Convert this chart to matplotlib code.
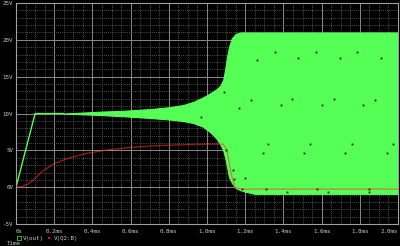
import matplotlib.pyplot as plt
import numpy as np
from matplotlib.lines import Line2D

# V(out): start ramp then oscillation envelope (ms, V)
t_ramp = [0.0, 0.10, 0.25]
v_ramp = [0.0, 10.0, 10.0]

t_env = [0.25, 0.44, 0.58, 0.70, 0.80, 0.875, 0.93, 0.98, 1.02, 1.05, 1.07, 1.085,
         1.095, 1.105, 1.115, 1.13, 1.15, 1.175, 1.20, 1.25, 2.0]
v_up = [10.0, 10.25, 10.4, 10.6, 10.85, 11.15, 11.6, 12.2, 12.8, 13.3, 13.8, 14.6,
        16.0, 17.7, 19.0, 20.2, 20.8, 21.0, 21.0, 21.0, 21.0]
v_lo = [10.0, 9.8, 9.6, 9.4, 9.2, 8.98, 8.7, 8.2, 7.4, 6.6, 5.8, 5.0,
        4.0, 2.75, 1.4, 0.6, -0.1, -0.4, -0.6, -0.9, -0.9]

# sample markers drawn on the V(out) trace
t_mk_out = [1.356, 1.262, 1.476, 1.571, 1.696, 1.785, 1.911, 1.089, 1.230, 1.168,
            1.445, 1.387, 1.665, 1.602, 1.880, 1.817, 0.969, 1.319, 1.539, 1.759,
            1.974, 1.293, 1.508, 1.723, 1.942, 1.199, 1.419, 1.634, 1.848]
v_mk_out = [18.4, 17.2, 17.5, 18.4, 17.5, 18.4, 17.5, 12.9, 11.8, 10.7,
            12.0, 11.1, 12.0, 11.1, 11.9, 11.1, 9.5, 5.8, 5.8, 5.8,
            5.8, 4.7, 4.7, 4.7, 4.7, 1.2, -0.6, -0.6, -0.6]

# V(Q2:B)
t_b = [0.0, 0.03, 0.06, 0.09, 0.14, 0.20, 0.27, 0.37, 0.49, 0.60, 0.70, 0.85, 1.0,
       1.084, 1.105, 1.12, 1.131, 1.147, 1.173, 2.0]
v_b = [0.0, 0.1, 0.4, 0.95, 2.2, 3.2, 3.9, 4.6, 5.1, 5.4, 5.6, 5.75, 5.85,
       5.85, 5.0, 2.7, 1.4, 0.0, -0.25, -0.25]
t_mk_b = [0.942, 1.099, 1.136, 1.140, 1.183, 1.309, 1.576, 1.848]
v_mk_b = [5.85, 5.1, 2.4, 1.1, -0.25, -0.25, -0.25, -0.25]

x_ticks = [0.0, 0.2, 0.4, 0.6, 0.8, 1.0, 1.2, 1.4, 1.6, 1.8, 2.0]
x_labels = ["0s", "0.2ms", "0.4ms", "0.6ms", "0.8ms", "1.0ms", "1.2ms", "1.4ms", "1.6ms", "1.8ms", "2.0ms"]
y_ticks = [-5, 0, 5, 10, 15, 20, 25]
y_labels = ["-5V", "0V", "5V", "10V", "15V", "20V", "25V"]

green = "#55ff55"
txt = "#c8c8c8"

fig = plt.figure(figsize=(4.0, 2.46), dpi=100, facecolor="black")
ax = fig.add_axes([0.04, 0.089, 0.955, 0.899], facecolor="black")

ax.set_xlim(0, 2.0)
ax.set_ylim(-5, 25)
ax.set_xticks(x_ticks)
ax.set_xticklabels(x_labels)
ax.set_yticks(y_ticks)
ax.set_yticklabels(y_labels)
ax.set_xticks(np.arange(0, 2.0, 0.05), minor=True)
ax.set_yticks(np.arange(-5, 25, 1), minor=True)
ax.tick_params(which="both", length=0, colors=txt, labelsize=4.2)
ax.tick_params(axis="x", pad=3.2)
ax.tick_params(axis="y", pad=2)
for lab in ax.get_xticklabels() + ax.get_yticklabels():
    lab.set_family("DejaVu Sans Mono")
xl = ax.get_xticklabels()
xl[0].set_ha("left")
xl[-1].set_ha("right")
ax.grid(which="major", color="#8a8a8a", lw=0.7)
ax.grid(which="minor", color="#6a6a6a", lw=0.6, ls=(0, (1, 1.5)))
ax.set_axisbelow(True)
for s in ax.spines.values():
    s.set_color("#a0a0a0")
    s.set_linewidth(0.8)

ax.plot(t_ramp, v_ramp, color=green, lw=1.0)
ax.fill_between(t_env, v_lo, v_up, color=green, lw=0.8, edgecolor=green)
ax.plot(t_mk_out, v_mk_out, ls="none", marker="s", ms=1.3, color="#1a1a1a", mew=0)

ax.plot(t_b, v_b, color="#ff3030", alpha=0.6, lw=0.9)
ax.plot(t_mk_b, v_mk_b, ls="none", marker="s", ms=1.4, color="#6a1010", mew=0)

handles = [
    Line2D([], [], ls="none", marker="s", ms=2.2, mfc="none", mec="#3cc83c", mew=0.6),
    Line2D([], [], ls="none", marker="s", ms=1.8, color="#c02020", mew=0),
]
fig.legend(handles, ["V(out)", "V(Q2:B)"], loc="lower left", bbox_to_anchor=(0.03, 0.0),
           ncol=2, frameon=False, labelcolor=txt, handlelength=0.6,
           handletextpad=0.4, columnspacing=0.6, prop={"family": "DejaVu Sans Mono", "size": 4.2})
fig.text(0.018, 0.0, "Time", color=txt, fontsize=4.2, family="DejaVu Sans Mono", va="bottom")

plt.savefig("out.png", dpi=100, facecolor="black")
